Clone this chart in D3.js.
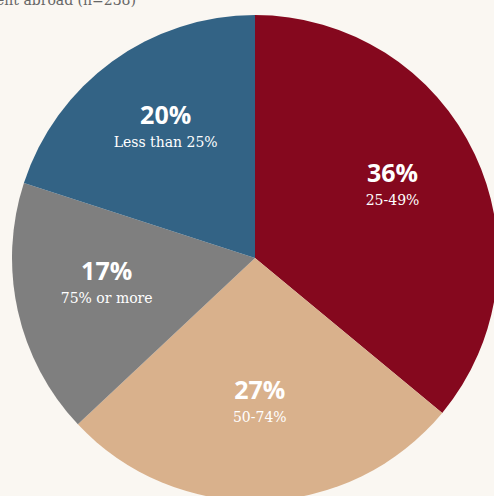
<!DOCTYPE html>
<html>
<head>
<meta charset="utf-8">
<script src="https://cdn.jsdelivr.net/npm/d3@7"></script>
<style>
  html, body { margin: 0; padding: 0; background: #faf7f2; overflow: hidden; }
  svg { display: block; }
</style>
</head>
<body>
<svg id="chart" width="494" height="496"></svg>
<script>
// Share of time spent abroad, by band
const categories = ["25-49%", "50-74%", "75% or more", "Less than 25%"];
const values = [36, 27, 17, 20];
const colors = ["#85081e", "#d9b18c", "#7f7f7f", "#336385"];
const titleText = "Share of time spent abroad (n=238)";

const width = 494, height = 496;
const cx = 255, cy = 258, radius = 243;

const svg = d3.select("#chart");

svg.append("rect")
  .attr("width", width).attr("height", height)
  .attr("fill", "#faf7f2");

svg.append("text")
  .attr("x", 136).attr("y", 5)
  .attr("text-anchor", "end")
  .attr("font-family", "DejaVu Serif, serif")
  .attr("font-size", 14)
  .attr("fill", "#666")
  .text(titleText);

const data = categories.map((c, i) => ({ category: c, value: values[i], color: colors[i] }));

const pie = d3.pie().value(d => d.value).sort(null);
const arcs = pie(data);

const arc = d3.arc().innerRadius(0).outerRadius(radius);
const labelArc = d3.arc().innerRadius(152).outerRadius(152);

const g = svg.append("g").attr("transform", `translate(${cx},${cy})`);

g.selectAll("path")
  .data(arcs)
  .join("path")
  .attr("d", arc)
  .attr("fill", d => d.data.color);

const labels = g.selectAll("g.label")
  .data(arcs)
  .join("g")
  .attr("class", "label")
  .attr("transform", d => `translate(${labelArc.centroid(d)})`);

labels.append("text")
  .attr("text-anchor", "middle")
  .attr("y", -11)
  .attr("font-family", "Open Sans, sans-serif")
  .attr("font-weight", 700)
  .attr("font-size", 25)
  .attr("fill", "#fff")
  .text(d => d.data.value + "%");

labels.append("text")
  .attr("text-anchor", "middle")
  .attr("y", 12)
  .attr("font-family", "DejaVu Serif, serif")
  .attr("font-size", 14)
  .attr("fill", "#fff")
  .text(d => d.data.category);
</script>
</body>
</html>
